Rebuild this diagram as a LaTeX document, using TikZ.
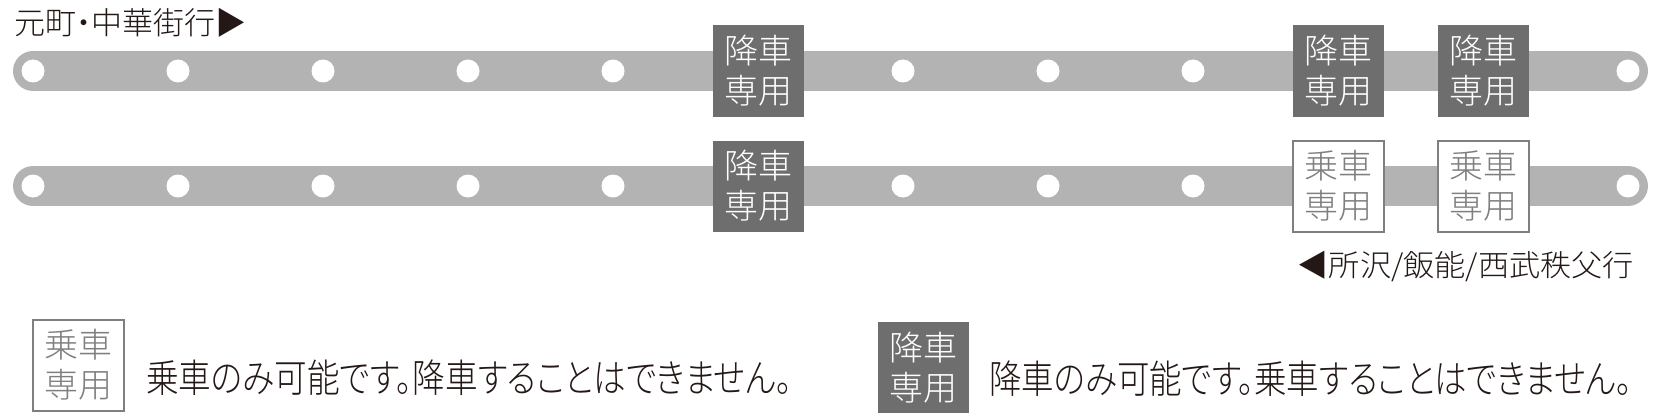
\documentclass[tikz,border=0pt]{standalone}
\usepackage{fontspec}
\setmainfont{Noto Sans CJK JP}
\newfontfamily\lightjp{Noto Sans CJK JP Light}[RawFeature=+palt]
\newfontfamily\lightjpfw{Noto Sans CJK JP Light}
\usepackage{graphicx}
\definecolor{barcol}{HTML}{B3B3B3}
\definecolor{darkbox}{HTML}{6E6E6E}
\definecolor{boxline}{HTML}{7F7F7F}
\definecolor{ink}{HTML}{231815}
\tikzset{
  barline/.style={draw=barcol, line width=40pt, line cap=round},
  stop/.style={circle, fill=white, minimum size=23pt, inner sep=0pt},
  boxbase/.style={minimum width=91pt, minimum height=91pt, inner sep=0pt, align=center,
    font=\lightjpfw\fontsize{34}{40}\selectfont},
  dropbox/.style={boxbase, fill=darkbox, text=white},
  boardbox/.style={boxbase, fill=white, draw=boxline, line width=2pt, text=boxline},
  label/.style={text=ink, inner sep=0pt},
}
\begin{document}
\begin{tikzpicture}[x=1pt,y=-1pt]
\useasboundingbox (0,0) rectangle (1660,420);
\foreach \i in {1,...,12} {
  \coordinate (a\i) at ({33+145*(\i-1)},71);
  \coordinate (b\i) at ({33+145*(\i-1)},186);
}
\draw[barline] (a1) -- (a12);
\draw[barline] (b1) -- (b12);
\foreach \i in {1,2,3,4,5,7,8,9,12} {
  \node[stop] (sa\i) at (a\i) {};
  \node[stop] (sb\i) at (b\i) {};
}
\node[dropbox] (da6) at (a6) {降車\\専用};
\node[dropbox] (da10) at (a10) {降車\\専用};
\node[dropbox] (da11) at (a11) {降車\\専用};
\node[dropbox] (db6) at (b6) {降車\\専用};
\node[boardbox] (bb10) at (b10) {乗車\\専用};
\node[boardbox] (bb11) at (b11) {乗車\\専用};

\node[label, anchor=west, font=\lightjp\fontsize{31}{31}\selectfont] (title) at (14,23) {元町・中華街行▶};
\node[label, anchor=east, font=\lightjpfw\fontsize{30}{30}\selectfont] (dest) at (1634,266)
  {\resizebox{336pt}{\height}{◀所沢/飯能/西武秩父行}};

\node[boardbox] (legA) at (78.5,365) {乗車\\専用};
\node[label, anchor=west, font=\lightjp\fontsize{39}{39}\selectfont] (legAt) at (146,378)
  {\resizebox{646pt}{\height}{乗車のみ可能です。降車することはできません。}};
\node[dropbox] (legB) at (923.5,367.5) {降車\\専用};
\node[label, anchor=west, font=\lightjp\fontsize{39}{39}\selectfont] (legBt) at (989,379)
  {\resizebox{643pt}{\height}{降車のみ可能です。乗車することはできません。}};
\end{tikzpicture}
\end{document}
